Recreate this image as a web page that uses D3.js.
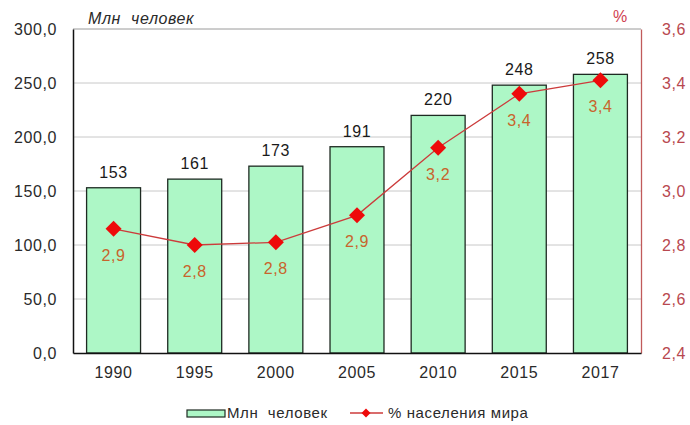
<!DOCTYPE html>
<html>
<head>
<meta charset="utf-8">
<script src="https://cdn.jsdelivr.net/npm/d3@7"></script>
<style>
  html, body { margin: 0; padding: 0; background: #fff; }
  svg { display: block; font-family: "Liberation Sans", Arial, sans-serif; }
  svg text { letter-spacing: 0.6px; }
</style>
</head>
<body>
<svg id="chart" width="690" height="425"></svg>
<script>
// Population (million people) and share of world population (%)
const years = ["1990", "1995", "2000", "2005", "2010", "2015", "2017"];
const millions = [153, 161, 173, 191, 220, 248, 258];
const sharePct = [2.86, 2.80, 2.81, 2.91, 3.16, 3.36, 3.41];
const leftTicks = [0, 50, 100, 150, 200, 250, 300];
const rightTicks = [2.4, 2.6, 2.8, 3.0, 3.2, 3.4, 3.6];

const svg = d3.select("#chart");
const plot = { left: 73, right: 641, top: 29, bottom: 353 };
const FONT = "Liberation Sans, Arial, sans-serif";

const x = d3.scaleBand().domain(years).range([plot.left, plot.right]).paddingInner(0.335).paddingOuter(0.1675);
const yL = d3.scaleLinear().domain([0, 300]).range([plot.bottom, plot.top]);
const yR = d3.scaleLinear().domain([2.4, 3.6]).range([plot.bottom, plot.top]);

const comma = (v, d) => v.toFixed(d).replace(".", ",");
const cx = (d, i) => x(years[i]) + x.bandwidth() / 2;
const diamondPath = r => `M0,${-r}L${r},0L0,${r}L${-r},0Z`;

// gridlines
svg.append("g").selectAll("line").data(leftTicks.filter(t => t > 0 && t < 300)).join("line")
  .attr("x1", plot.left).attr("x2", plot.right)
  .attr("y1", d => yL(d)).attr("y2", d => yL(d))
  .attr("stroke", "#c8c8c8").attr("stroke-width", 1);

// top border
svg.append("line").attr("x1", plot.left).attr("x2", plot.right)
  .attr("y1", plot.top).attr("y2", plot.top).attr("stroke", "#9a9a9a");

// bars
svg.append("g").selectAll("rect").data(years).join("rect")
  .attr("x", d => x(d)).attr("width", x.bandwidth())
  .attr("y", (d, i) => yL(millions[i])).attr("height", (d, i) => plot.bottom - yL(millions[i]))
  .attr("fill", "#adf7c6").attr("stroke", "#1e2a22").attr("stroke-width", 1.3);

// bar value labels
svg.append("g").selectAll("text").data(years).join("text")
  .attr("x", d => x(d) + x.bandwidth() / 2)
  .attr("y", (d, i) => yL(millions[i]) - 10)
  .attr("text-anchor", "middle").attr("font-size", 16).attr("fill", "#1a1a1a")
  .text((d, i) => millions[i]);

// left axis
const axL = svg.append("g").attr("transform", `translate(${plot.left},0)`)
  .call(d3.axisLeft(yL).tickValues(leftTicks).tickSize(0).tickPadding(16).tickFormat(d => comma(d, 1)));
axL.select(".domain").attr("stroke", "#111").attr("stroke-width", 1.5);
axL.selectAll("text").attr("font-size", 16).attr("fill", "#2a2a2a").attr("font-family", FONT);

// right axis
const axR = svg.append("g").attr("transform", `translate(${plot.right},0)`)
  .call(d3.axisRight(yR).tickValues(rightTicks).tickSize(0).tickPadding(21).tickFormat(d => comma(d, 1)));
axR.select(".domain").attr("stroke", "#c05a5a").attr("stroke-width", 1.3);
axR.selectAll("text").attr("font-size", 16).attr("fill", "#b8484f").attr("font-family", FONT);

// bottom axis
const axB = svg.append("g").attr("transform", `translate(0,${plot.bottom})`)
  .call(d3.axisBottom(x).tickSize(0).tickPadding(14));
axB.select(".domain").attr("stroke", "#111").attr("stroke-width", 1.5);
axB.selectAll("text").attr("font-size", 16).attr("fill", "#2a2a2a").attr("font-family", FONT);

// share line
const line = d3.line().x(cx).y(d => yR(d));
svg.append("path").datum(sharePct).attr("d", line)
  .attr("fill", "none").attr("stroke", "#cc3b3b").attr("stroke-width", 1.3);

svg.append("g").selectAll("path").data(sharePct).join("path")
  .attr("d", diamondPath(8))
  .attr("transform", (d, i) => `translate(${cx(d, i)},${yR(d)})`)
  .attr("fill", "#ee0a0a");

svg.append("g").selectAll("text").data(sharePct).join("text")
  .attr("x", cx)
  .attr("y", d => yR(d) + 32)
  .attr("text-anchor", "middle").attr("font-size", 16).attr("fill", "#c8642c")
  .text(d => comma(d, 1));

// axis titles
svg.append("text").attr("x", 88).attr("y", 24).attr("font-size", 16)
  .attr("font-style", "italic").attr("fill", "#2a2a2a").attr("xml:space", "preserve").text("Млн  человек");
svg.append("text").attr("x", 613).attr("y", 22).attr("font-size", 16)
  .attr("fill", "#d04050").text("%");

// legend
const lg = svg.append("g");
lg.append("rect").attr("x", 187).attr("y", 410).attr("width", 38).attr("height", 7)
  .attr("fill", "#adf7c6").attr("stroke", "#1e2a22").attr("stroke-width", 1.2);
lg.append("text").attr("x", 227).attr("y", 418).attr("font-size", 15).attr("fill", "#2a2a2a")
  .attr("xml:space", "preserve").text("Млн  человек");
lg.append("line").attr("x1", 350).attr("x2", 383).attr("y1", 413).attr("y2", 413)
  .attr("stroke", "#cc3b3b").attr("stroke-width", 1.3);
lg.append("path").attr("d", diamondPath(4.5))
  .attr("transform", "translate(366,413)").attr("fill", "#ee0a0a");
lg.append("text").attr("x", 388).attr("y", 418).attr("font-size", 15).attr("fill", "#2a2a2a").text("% населения мира");
</script>
</body>
</html>
